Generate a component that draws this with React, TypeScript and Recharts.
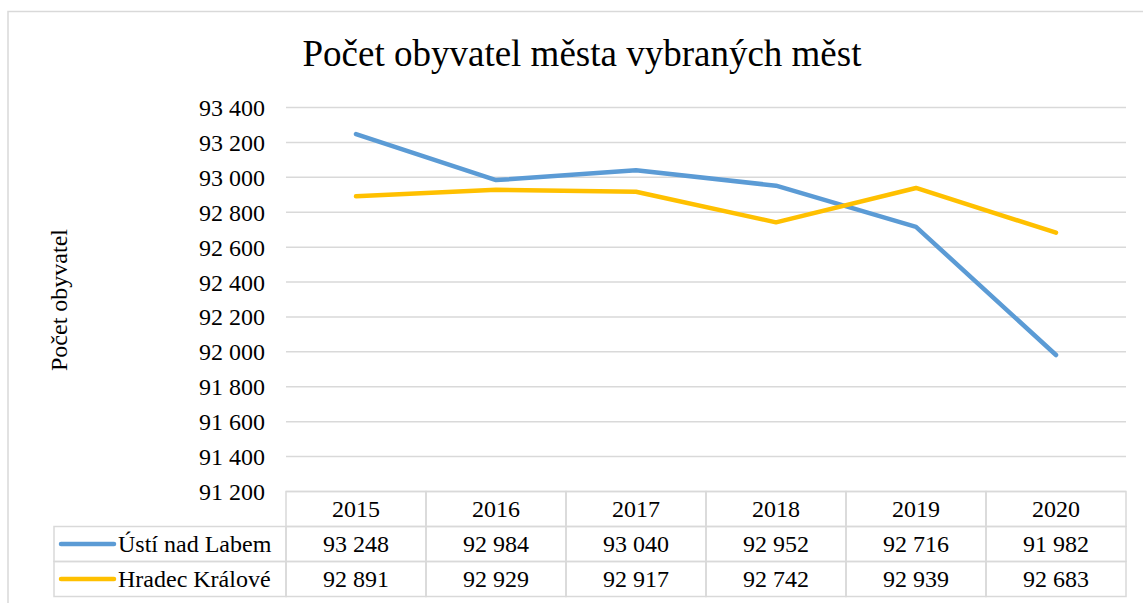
import { CartesianGrid, Line, LineChart, XAxis, YAxis } from 'recharts';

const years = ['2015', '2016', '2017', '2018', '2019', '2020'];
const usti = [93248, 92984, 93040, 92952, 92716, 91982];
const hradec = [92891, 92929, 92917, 92742, 92939, 92683];
const yTicks = [91200, 91400, 91600, 91800, 92000, 92200, 92400, 92600, 92800, 93000, 93200, 93400];

const SERIES = [
  { key: 'usti', name: 'Ústí nad Labem', color: '#5B9BD5', values: usti },
  { key: 'hradec', name: 'Hradec Králové', color: '#FFC000', values: hradec },
];

const data = years.map((year, i) => ({ year, usti: usti[i], hradec: hradec[i] }));

const W = 1143;
const H = 603;
const PLOT_LEFT = 286;
const PLOT_RIGHT = 1126;
const PLOT_TOP = 107.5;
const PLOT_BOTTOM = 491.5;
const BAND = (PLOT_RIGHT - PLOT_LEFT) / years.length;
const ROW_H = 35;
const TABLE_LEFT = 54;
const FONT = '"Liberation Serif", "Times New Roman", serif';
const GRID = '#D9D9D9';

function fmt(v: number) {
  return String(v).replace(/\B(?=(\d{3})+(?!\d))/g, ' ');
}

// draws one column of the data table under the category, plus the legend column for the first one
function TableTick(props: any) {
  const { x, y, index } = props;
  const left = x - BAND / 2;
  const cells = [];
  const textProps = { fontFamily: FONT, fontSize: 24, fill: '#000', dominantBaseline: 'central' as const };
  for (let r = 0; r < 3; r++) {
    cells.push(<rect key={`c${r}`} x={left} y={y + r * ROW_H} width={BAND} height={ROW_H} fill="none" stroke={GRID} strokeWidth={1.5} />);
  }
  cells.push(<text key="yr" x={x} y={y + ROW_H / 2} textAnchor="middle" {...textProps}>{years[index]}</text>);
  SERIES.forEach((s, r) => {
    cells.push(
      <text key={`v${r}`} x={x} y={y + (r + 1.5) * ROW_H} textAnchor="middle" {...textProps}>{fmt(s.values[index])}</text>,
    );
  });
  if (index === 0) {
    SERIES.forEach((s, r) => {
      const ry = y + (r + 1) * ROW_H;
      cells.push(<rect key={`l${r}`} x={TABLE_LEFT} y={ry} width={left - TABLE_LEFT} height={ROW_H} fill="none" stroke={GRID} strokeWidth={1.5} />);
      cells.push(<line key={`m${r}`} x1={61} x2={114} y1={ry + ROW_H / 2} y2={ry + ROW_H / 2} stroke={s.color} strokeWidth={4.5} strokeLinecap="round" />);
      cells.push(<text key={`n${r}`} x={118} y={ry + ROW_H / 2} textAnchor="start" {...textProps}>{s.name}</text>);
    });
  }
  return <g>{cells}</g>;
}

export default function App() {
  return (
    <div style={{ position: 'absolute', left: 0, top: 0, width: W, height: H, background: '#fff' }}>
      <svg width={W} height={H} style={{ position: 'absolute', left: 0, top: 0 }}>
        <rect x={8} y={11.5} width={W + 10} height={H + 10} fill="#fff" stroke={GRID} strokeWidth={1.5} />
        <text x={582} y={66} textAnchor="middle" fontFamily={FONT} fontSize={37} fill="#000">
          Počet obyvatel města vybraných měst
        </text>
        <text x={59} y={300} textAnchor="middle" dominantBaseline="central" transform="rotate(-90 59 300)" fontFamily={FONT} fontSize={24} fill="#000">
          Počet obyvatel
        </text>
      </svg>
      <div style={{ position: 'absolute', left: 0, top: 0 }}>
        <LineChart
          width={W}
          height={H}
          data={data}
          margin={{ top: PLOT_TOP, left: 0, right: W - PLOT_RIGHT, bottom: 0 }}
        >
          <CartesianGrid vertical={false} stroke={GRID} strokeWidth={1.5} />
          <XAxis
            dataKey="year"
            padding={{ left: BAND / 2, right: BAND / 2 }}
            axisLine={false}
            tickLine={false}
            tickSize={0}
            tickMargin={0}
            interval={0}
            height={H - PLOT_BOTTOM}
            tick={<TableTick />}
          />
          <YAxis
            width={PLOT_LEFT}
            domain={[91200, 93400]}
            ticks={yTicks}
            interval={0}
            axisLine={false}
            tickLine={false}
            tickSize={0}
            tickMargin={21}
            tickFormatter={fmt}
            tick={{ fontFamily: FONT, fontSize: 24, fill: '#000' }}
          />
          {SERIES.map((s) => (
            <Line
              key={s.key}
              dataKey={s.key}
              name={s.name}
              type="linear"
              stroke={s.color}
              strokeWidth={4.5}
              strokeLinecap="round"
              strokeLinejoin="round"
              dot={false}
              activeDot={false}
              isAnimationActive={false}
            />
          ))}
        </LineChart>
      </div>
    </div>
  );
}
